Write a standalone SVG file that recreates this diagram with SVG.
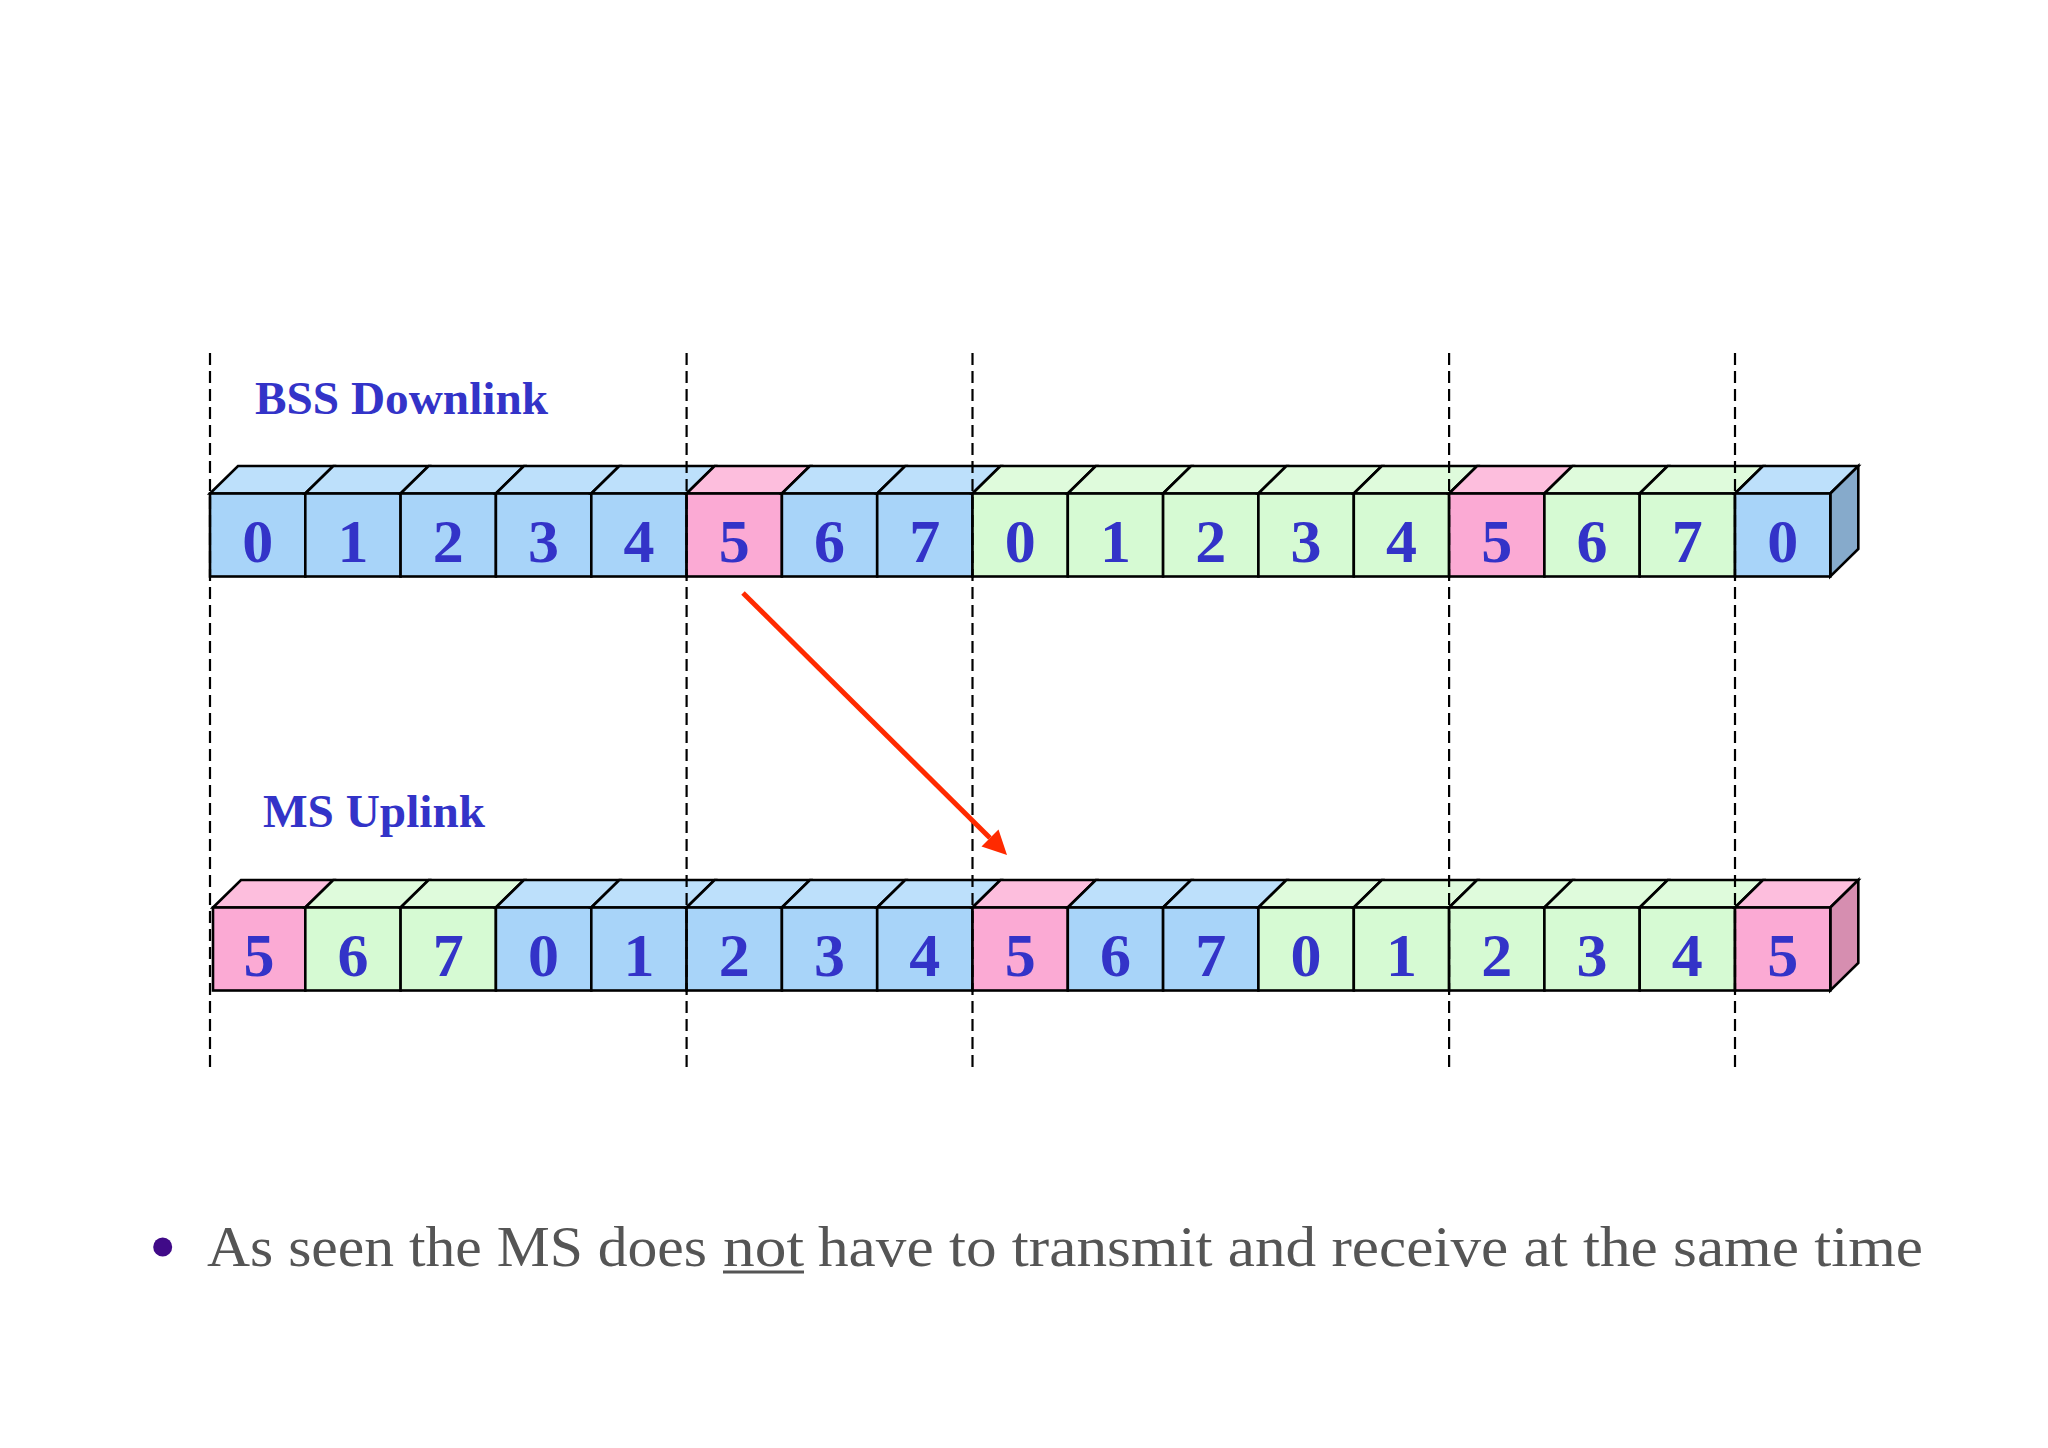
<svg xmlns="http://www.w3.org/2000/svg" width="2048" height="1448" viewBox="0 0 2048 1448">
<style>
.f{stroke:#000;stroke-width:2.6;stroke-linejoin:miter}
.fb{fill:#a8d4f9}.tb{fill:#bde0fb}.sb{fill:#86aacb}
.fg{fill:#d6fad3}.tg{fill:#dffbdc}
.fp{fill:#fbaad4}.tp{fill:#fdbedd}.sp{fill:#d68eb0}
.d{font-family:"Liberation Serif","Times New Roman",serif;font-weight:bold;font-size:62px;fill:#3333c8;text-anchor:middle}
.lbl{font-family:"Liberation Serif","Times New Roman",serif;font-weight:bold;font-size:47px;fill:#3333c8}
.guide{stroke:#000;stroke-width:2.2;stroke-dasharray:12 6;fill:none}
.body{font-family:"Liberation Serif","Times New Roman",serif;font-size:57px;fill:#555555}
</style>
<rect width="2048" height="1448" fill="#ffffff"/>

<g id="label-downlink"><text class="lbl" x="255" y="414" textLength="293" lengthAdjust="spacingAndGlyphs">BSS Downlink</text></g>
<g id="label-uplink"><text class="lbl" x="263" y="827" textLength="222" lengthAdjust="spacingAndGlyphs">MS Uplink</text></g>

<!-- Downlink row -->
<g id="dl-0"><polygon class="f tb" points="210,493.5 238,466 333.3,466 305.3,493.5"/><rect class="f fb" x="210" y="493.5" width="95.3" height="83"/><text class="d" x="257.7" y="562">0</text></g>
<g id="dl-1"><polygon class="f tb" points="305.3,493.5 333.3,466 428.6,466 400.6,493.5"/><rect class="f fb" x="305.3" y="493.5" width="95.3" height="83"/><text class="d" x="353" y="562">1</text></g>
<g id="dl-2"><polygon class="f tb" points="400.6,493.5 428.6,466 523.9,466 495.9,493.5"/><rect class="f fb" x="400.6" y="493.5" width="95.3" height="83"/><text class="d" x="448.3" y="562">2</text></g>
<g id="dl-3"><polygon class="f tb" points="495.9,493.5 523.9,466 619.3,466 591.3,493.5"/><rect class="f fb" x="495.9" y="493.5" width="95.4" height="83"/><text class="d" x="543.6" y="562">3</text></g>
<g id="dl-4"><polygon class="f tb" points="591.3,493.5 619.3,466 714.6,466 686.6,493.5"/><rect class="f fb" x="591.3" y="493.5" width="95.3" height="83"/><text class="d" x="638.9" y="562">4</text></g>
<g id="dl-5"><polygon class="f tp" points="686.6,493.5 714.6,466 809.9,466 781.9,493.5"/><rect class="f fp" x="686.6" y="493.5" width="95.3" height="83"/><text class="d" x="734.2" y="562">5</text></g>
<g id="dl-6"><polygon class="f tb" points="781.9,493.5 809.9,466 905.2,466 877.2,493.5"/><rect class="f fb" x="781.9" y="493.5" width="95.3" height="83"/><text class="d" x="829.5" y="562">6</text></g>
<g id="dl-7"><polygon class="f tb" points="877.2,493.5 905.2,466 1000.5,466 972.5,493.5"/><rect class="f fb" x="877.2" y="493.5" width="95.3" height="83"/><text class="d" x="924.8" y="562">7</text></g>
<g id="dl-8"><polygon class="f tg" points="972.5,493.5 1000.5,466 1095.8,466 1067.8,493.5"/><rect class="f fg" x="972.5" y="493.5" width="95.3" height="83"/><text class="d" x="1020.2" y="562">0</text></g>
<g id="dl-9"><polygon class="f tg" points="1067.8,493.5 1095.8,466 1191.1,466 1163.1,493.5"/><rect class="f fg" x="1067.8" y="493.5" width="95.3" height="83"/><text class="d" x="1115.5" y="562">1</text></g>
<g id="dl-10"><polygon class="f tg" points="1163.1,493.5 1191.1,466 1286.4,466 1258.4,493.5"/><rect class="f fg" x="1163.1" y="493.5" width="95.3" height="83"/><text class="d" x="1210.8" y="562">2</text></g>
<g id="dl-11"><polygon class="f tg" points="1258.4,493.5 1286.4,466 1381.8,466 1353.8,493.5"/><rect class="f fg" x="1258.4" y="493.5" width="95.4" height="83"/><text class="d" x="1306.1" y="562">3</text></g>
<g id="dl-12"><polygon class="f tg" points="1353.8,493.5 1381.8,466 1477.1,466 1449.1,493.5"/><rect class="f fg" x="1353.8" y="493.5" width="95.3" height="83"/><text class="d" x="1401.4" y="562">4</text></g>
<g id="dl-13"><polygon class="f tp" points="1449.1,493.5 1477.1,466 1572.4,466 1544.4,493.5"/><rect class="f fp" x="1449.1" y="493.5" width="95.3" height="83"/><text class="d" x="1496.7" y="562">5</text></g>
<g id="dl-14"><polygon class="f tg" points="1544.4,493.5 1572.4,466 1667.7,466 1639.7,493.5"/><rect class="f fg" x="1544.4" y="493.5" width="95.3" height="83"/><text class="d" x="1592" y="562">6</text></g>
<g id="dl-15"><polygon class="f tg" points="1639.7,493.5 1667.7,466 1763,466 1735,493.5"/><rect class="f fg" x="1639.7" y="493.5" width="95.3" height="83"/><text class="d" x="1687.3" y="562">7</text></g>
<g id="dl-16"><polygon class="f tb" points="1735,493.5 1763,466 1858.3,466 1830.3,493.5"/><polygon class="f sb" points="1830.3,493.5 1858.3,466 1858.3,549 1830.3,576.5"/><rect class="f fb" x="1735" y="493.5" width="95.3" height="83"/><text class="d" x="1782.7" y="562">0</text></g>

<!-- Uplink row -->
<g id="ul-0"><polygon class="f tp" points="213,907.5 241,880 333.3,880 305.3,907.5"/><rect class="f fp" x="213" y="907.5" width="92.3" height="83"/><text class="d" x="259" y="976">5</text></g>
<g id="ul-1"><polygon class="f tg" points="305.3,907.5 333.3,880 428.6,880 400.6,907.5"/><rect class="f fg" x="305.3" y="907.5" width="95.3" height="83"/><text class="d" x="353" y="976">6</text></g>
<g id="ul-2"><polygon class="f tg" points="400.6,907.5 428.6,880 523.9,880 495.9,907.5"/><rect class="f fg" x="400.6" y="907.5" width="95.3" height="83"/><text class="d" x="448.3" y="976">7</text></g>
<g id="ul-3"><polygon class="f tb" points="495.9,907.5 523.9,880 619.3,880 591.3,907.5"/><rect class="f fb" x="495.9" y="907.5" width="95.4" height="83"/><text class="d" x="543.6" y="976">0</text></g>
<g id="ul-4"><polygon class="f tb" points="591.3,907.5 619.3,880 714.6,880 686.6,907.5"/><rect class="f fb" x="591.3" y="907.5" width="95.3" height="83"/><text class="d" x="638.9" y="976">1</text></g>
<g id="ul-5"><polygon class="f tb" points="686.6,907.5 714.6,880 809.9,880 781.9,907.5"/><rect class="f fb" x="686.6" y="907.5" width="95.3" height="83"/><text class="d" x="734.2" y="976">2</text></g>
<g id="ul-6"><polygon class="f tb" points="781.9,907.5 809.9,880 905.2,880 877.2,907.5"/><rect class="f fb" x="781.9" y="907.5" width="95.3" height="83"/><text class="d" x="829.5" y="976">3</text></g>
<g id="ul-7"><polygon class="f tb" points="877.2,907.5 905.2,880 1000.5,880 972.5,907.5"/><rect class="f fb" x="877.2" y="907.5" width="95.3" height="83"/><text class="d" x="924.8" y="976">4</text></g>
<g id="ul-8"><polygon class="f tp" points="972.5,907.5 1000.5,880 1095.8,880 1067.8,907.5"/><rect class="f fp" x="972.5" y="907.5" width="95.3" height="83"/><text class="d" x="1020.2" y="976">5</text></g>
<g id="ul-9"><polygon class="f tb" points="1067.8,907.5 1095.8,880 1191.1,880 1163.1,907.5"/><rect class="f fb" x="1067.8" y="907.5" width="95.3" height="83"/><text class="d" x="1115.5" y="976">6</text></g>
<g id="ul-10"><polygon class="f tb" points="1163.1,907.5 1191.1,880 1286.4,880 1258.4,907.5"/><rect class="f fb" x="1163.1" y="907.5" width="95.3" height="83"/><text class="d" x="1210.8" y="976">7</text></g>
<g id="ul-11"><polygon class="f tg" points="1258.4,907.5 1286.4,880 1381.8,880 1353.8,907.5"/><rect class="f fg" x="1258.4" y="907.5" width="95.4" height="83"/><text class="d" x="1306.1" y="976">0</text></g>
<g id="ul-12"><polygon class="f tg" points="1353.8,907.5 1381.8,880 1477.1,880 1449.1,907.5"/><rect class="f fg" x="1353.8" y="907.5" width="95.3" height="83"/><text class="d" x="1401.4" y="976">1</text></g>
<g id="ul-13"><polygon class="f tg" points="1449.1,907.5 1477.1,880 1572.4,880 1544.4,907.5"/><rect class="f fg" x="1449.1" y="907.5" width="95.3" height="83"/><text class="d" x="1496.7" y="976">2</text></g>
<g id="ul-14"><polygon class="f tg" points="1544.4,907.5 1572.4,880 1667.7,880 1639.7,907.5"/><rect class="f fg" x="1544.4" y="907.5" width="95.3" height="83"/><text class="d" x="1592" y="976">3</text></g>
<g id="ul-15"><polygon class="f tg" points="1639.7,907.5 1667.7,880 1763,880 1735,907.5"/><rect class="f fg" x="1639.7" y="907.5" width="95.3" height="83"/><text class="d" x="1687.3" y="976">4</text></g>
<g id="ul-16"><polygon class="f tp" points="1735,907.5 1763,880 1858.3,880 1830.3,907.5"/><polygon class="f sp" points="1830.3,907.5 1858.3,880 1858.3,963 1830.3,990.5"/><rect class="f fp" x="1735" y="907.5" width="95.3" height="83"/><text class="d" x="1782.7" y="976">5</text></g>

<g id="guides">
<line class="guide" x1="210" y1="353" x2="210" y2="1071"/>
<line class="guide" x1="686.6" y1="353" x2="686.6" y2="1071"/>
<line class="guide" x1="972.5" y1="353" x2="972.5" y2="1071"/>
<line class="guide" x1="1449.1" y1="353" x2="1449.1" y2="1071"/>
<line class="guide" x1="1735" y1="353" x2="1735" y2="1071"/>
</g>

<g id="connectors">
<line x1="743" y1="593" x2="990" y2="838" stroke="#ff2a00" stroke-width="5"/>
<polygon points="1007,855 981.5,846.5 998.5,829.5" fill="#ff2a00"/>
</g>

<g id="bullet">
<circle cx="162.7" cy="1247" r="9.5" fill="#400a88"/>
<text class="body" x="207" y="1266" textLength="500" lengthAdjust="spacingAndGlyphs">As seen the MS does</text>
<text class="body" x="723" y="1266" textLength="81" lengthAdjust="spacingAndGlyphs">not</text>
<line x1="723" y1="1272" x2="804" y2="1272" stroke="#555555" stroke-width="3"/>
<text class="body" x="818" y="1266" textLength="1105" lengthAdjust="spacingAndGlyphs">have to transmit and receive at the same time</text>
</g>
</svg>
